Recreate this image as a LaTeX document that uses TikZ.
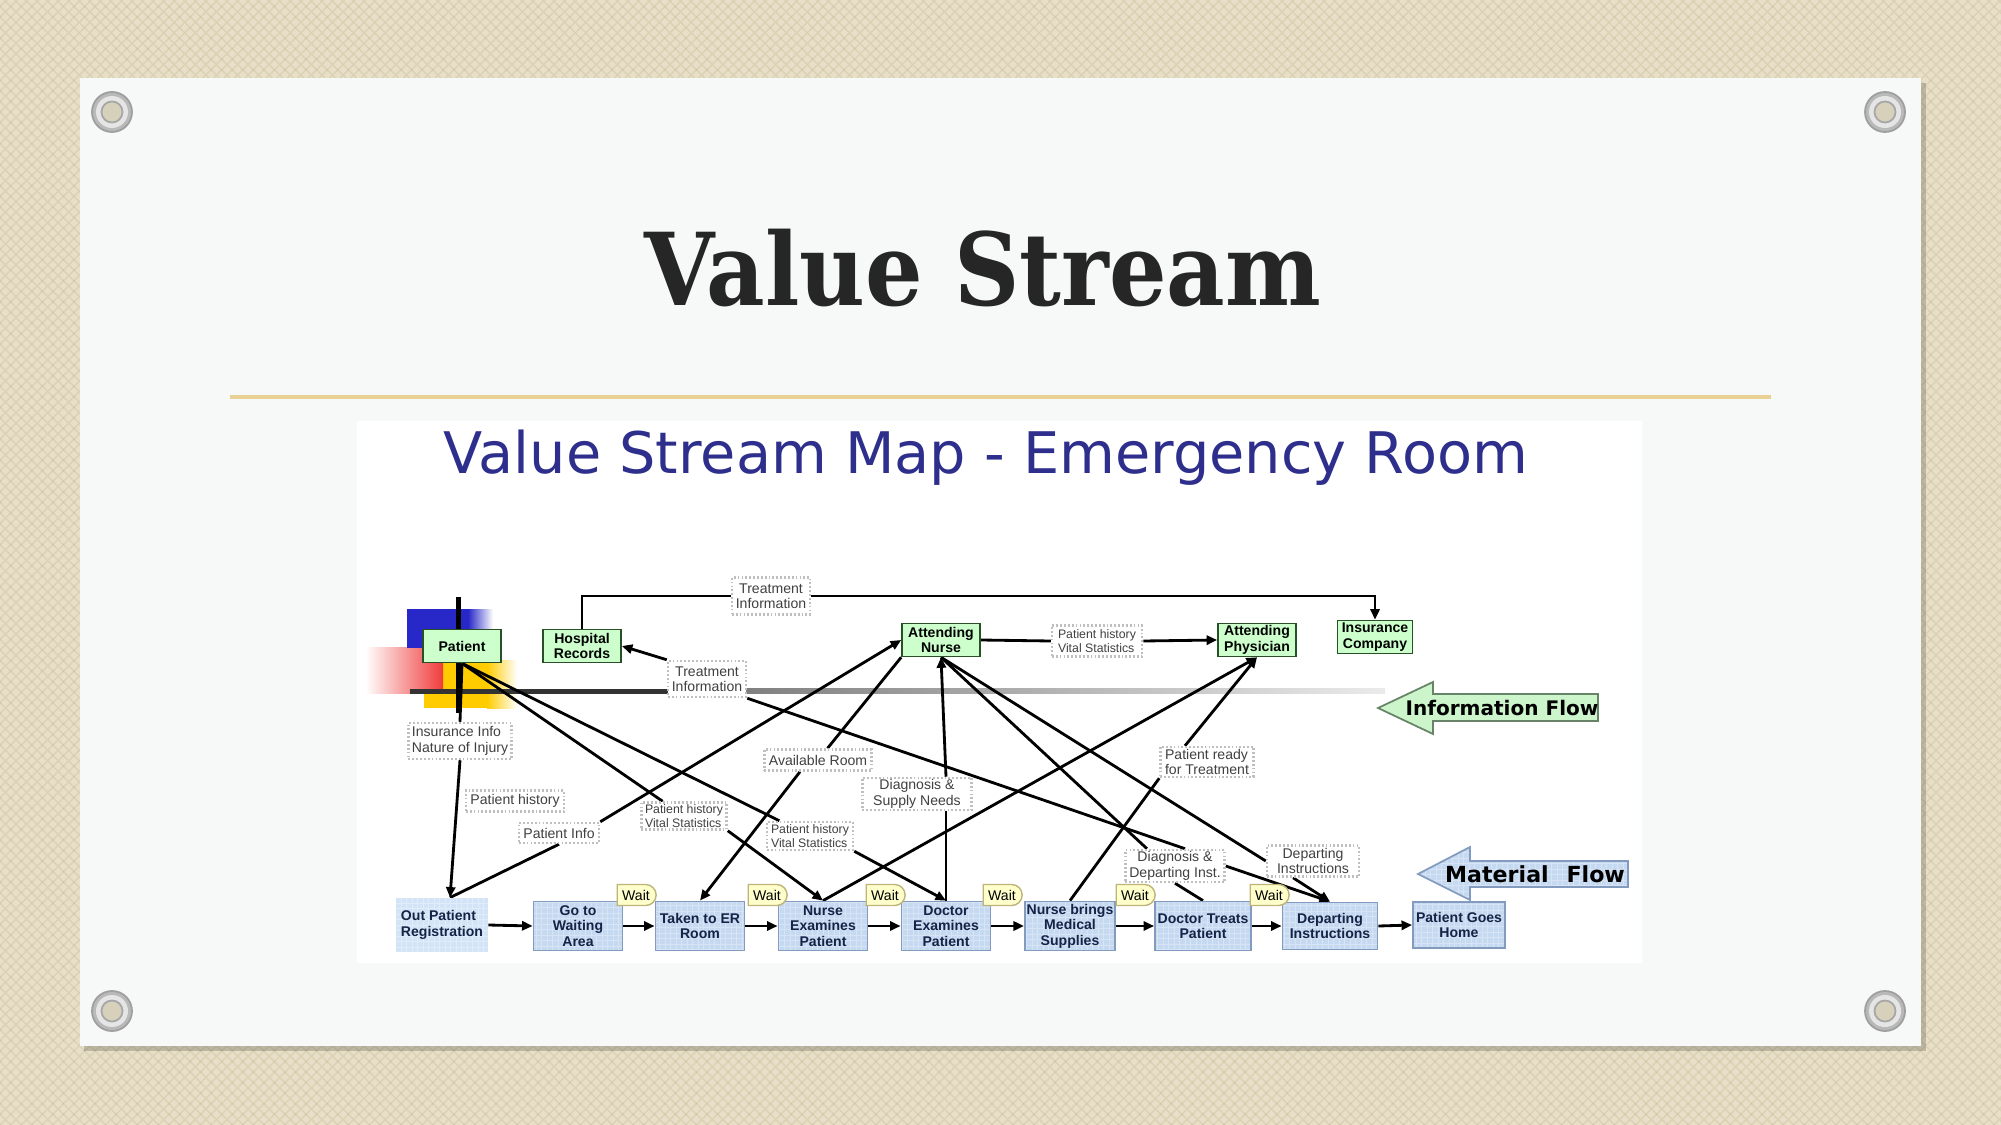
\documentclass[tikz,border=0pt]{standalone}
\usepackage{fontspec}
\setmainfont{Liberation Sans}
\newfontfamily\slideserif{DejaVu Serif}[FakeStretch=0.9]
\newfontfamily\mapfont{DejaVu Sans}
\usetikzlibrary{arrows.meta, positioning, calc, shapes.misc, patterns}

\definecolor{canvasbg}{RGB}{231, 223, 199}
\definecolor{canvasweave}{RGB}{208, 196, 162}
\definecolor{cardbg}{RGB}{247, 248, 248}
\definecolor{goldline}{RGB}{233, 208, 148}
\definecolor{titleink}{RGB}{38, 38, 38}
\definecolor{mapblue}{RGB}{46, 46, 140}
\definecolor{mintfill}{RGB}{204, 255, 204}
\definecolor{mintdraw}{RGB}{40, 80, 40}
\definecolor{procfill}{RGB}{197, 217, 241}
\definecolor{procdraw}{RGB}{130, 155, 190}
\definecolor{proctext}{RGB}{20, 35, 70}
\definecolor{regfill}{RGB}{212, 228, 247}
\definecolor{waitfill}{RGB}{255, 255, 204}
\definecolor{waitdraw}{RGB}{190, 180, 120}
\definecolor{infotext}{RGB}{64, 64, 64}
\definecolor{flowgreen}{RGB}{204, 245, 204}
\definecolor{mapred}{RGB}{240, 60, 60}
\definecolor{mapyellow}{RGB}{255, 204, 0}
\definecolor{mapindigo}{RGB}{40, 40, 200}

\newcommand{\slidetitle}{\slideserif\bfseries\fontsize{28.6}{32}\selectfont}
\newcommand{\maptitle}{\mapfont\fontsize{16.3}{18}\selectfont}
\newcommand{\flowlabel}{\mapfont\bfseries\fontsize{5.7}{6.5}\selectfont}
\newcommand{\matlabel}{\mapfont\bfseries\fontsize{6.3}{7}\selectfont}
\newcommand{\mapsmall}{\fontsize{4}{4.4}\selectfont}
\newcommand{\mapsmaller}{\fontsize{3.5}{4}\selectfont}

\pgfdeclarelayer{backdrop}
\pgfdeclarelayer{links}
\pgfsetlayers{backdrop,links,main}

\tikzset{
  greenbox/.style={draw=mintdraw, fill=mintfill, line width=0.45pt,
    font=\mapsmall\bfseries, align=center, minimum width=0.78cm,
    minimum height=0.33cm, inner sep=0.5pt},
  procbox/.style={draw=procdraw, fill=procfill, line width=0.5pt,
    font=\mapsmall\bfseries, text=proctext, align=center,
    minimum width=0.89cm, minimum height=0.49cm, inner sep=0.5pt},
  infobox/.style={draw=gray!50, dash pattern=on 0.5pt off 0.6pt,
    line width=0.7pt, fill=white, font=\mapsmall, text=infotext,
    align=center, inner sep=0.5pt},
  waitbox/.style={rounded rectangle, rounded rectangle left arc=none,
    draw=waitdraw, fill=waitfill, font=\mapsmall, minimum width=0.41cm,
    minimum height=0.21cm, inner sep=0.3pt},
  gridfill/.style={path picture={
    \draw[white, opacity=0.3, line width=0.25pt]
      (path picture bounding box.south west) grid[step=0.055cm]
      (path picture bounding box.north east);}},
  link/.style={line width=0.8pt},
  flow/.style={line width=0.8pt, -{Triangle[length=3pt, width=2.6pt]}},
}

\begin{document}
\begin{tikzpicture}[x=0.01cm, y=-0.01cm]
  \useasboundingbox (0,0) rectangle (2001,1125);

  \begin{pgfonlayer}{backdrop}
    % Canvas and card
    \fill[canvasbg] (0,0) rectangle (2001,1125);
    \fill[pattern=crosshatch, pattern color=canvasweave, opacity=0.5] (0,0) rectangle (2001,1125);
    \fill[black, opacity=0.18] (84,83) rectangle (1926,1051);
    \fill[cardbg] (80,78) rectangle (1921,1046);
    % Eyelets
    \foreach \gx/\gy in {112/112, 1885/112, 112/1011, 1885/1011}{
      \fill[gray!55] (\gx,\gy) circle (0.2cm);
      \fill[gray!20] (\gx,\gy) circle (0.16cm);
      \fill[canvasbg!85!gray] (\gx,\gy) circle (0.105cm);
      \draw[gray!70, line width=0.5pt] (\gx,\gy) circle (0.105cm);
      \draw[gray!75, line width=0.5pt] (\gx,\gy) circle (0.2cm);
    }
    % Rule under the title
    \draw[goldline, line width=1pt] (230,397) -- (1771,397);
    % Map picture
    \fill[white] (357,421) rectangle (1642,963);
    % Patient corner blocks
    \fill[mapyellow] (424,660) rectangle (487,708);
    \shade[left color=mapyellow, right color=white] (487,660) rectangle (517,708);
    \shade[left color=white, right color=mapred] (365,647) rectangle (443,693);
    \fill[mapindigo] (407,609) rectangle (468,648);
    \shade[left color=mapindigo, right color=white] (468,609) rectangle (493,648);
    % Split bars
    \fill[black!80] (410,688.5) rectangle (668,693.5);
    \shade[left color=black!55, right color=black!8] (668,688.5) rectangle (1385,693.5);
    \fill[black] (455.5,597) rectangle (460.5,713);
  \end{pgfonlayer}

  % Titles
  \node[font=\slidetitle, text=titleink, anchor=base] (slideTitle) at (983,306) {Value Stream};
  \node[font=\maptitle, text=mapblue, anchor=base] (mapTitle) at (986,474)
    {Value Stream Map - Emergency Room};

  % Information flow boxes
  \node[greenbox] (patient) at (462,646) {Patient};
  \node[greenbox] (hrec) at (582,646) {Hospital\\Records};
  \node[greenbox] (nurseAtt) at (941,640) {Attending\\Nurse};
  \node[greenbox] (physAtt) at (1257,640) {Attending\\Physician};
  \node[greenbox, minimum width=0.75cm] (insco) at (1375,637) {Insurance\\Company};

  % Information items
  \node[infobox, minimum width=0.78cm, minimum height=0.37cm] (tiTop) at (771,596) {Treatment\\Information};
  \node[infobox, minimum width=0.78cm, minimum height=0.36cm] (tiMid) at (707,679) {Treatment\\Information};
  \node[infobox, align=left, minimum width=1.03cm, minimum height=0.36cm] (insInfo) at (460,741) {Insurance Info\\Nature of Injury};
  \node[infobox, minimum width=0.98cm, minimum height=0.21cm] (phSingle) at (515,801) {Patient history};
  \node[infobox, minimum width=0.80cm, minimum height=0.20cm] (patInfo) at (559,833) {Patient Info};
  \node[infobox, font=\mapsmaller, align=left, minimum width=0.85cm, minimum height=0.27cm] (phvsA) at (684,816) {Patient history\\Vital Statistics};
  \node[infobox, font=\mapsmaller, align=left, minimum width=0.86cm, minimum height=0.28cm] (phvsB) at (810,836) {Patient history\\Vital Statistics};
  \node[infobox, minimum width=1.07cm, minimum height=0.21cm] (availRoom) at (818,760) {Available Room};
  \node[infobox, minimum width=1.09cm, minimum height=0.32cm] (diagSupply) at (917,794) {Diagnosis \&\\Supply Needs};
  \node[infobox, font=\mapsmaller, align=left, minimum width=0.90cm, minimum height=0.31cm] (phvsC) at (1097,641) {Patient history\\Vital Statistics};
  \node[infobox, align=left, minimum width=0.93cm, minimum height=0.30cm] (readyTreat) at (1207,762) {Patient ready\\for Treatment};
  \node[infobox, minimum width=0.99cm, minimum height=0.32cm] (diagDepart) at (1175,866) {Diagnosis \&\\Departing Inst.};
  \node[infobox, minimum width=0.92cm, minimum height=0.31cm] (departInfo) at (1313,861) {Departing\\Instructions};

  % Process steps
  \node[procbox, gridfill, draw=none, fill=regfill, align=left, minimum width=0.91cm, minimum height=0.53cm] (outReg) at (442,925) {Out Patient\\Registration};
  \node[procbox, gridfill] (goWait) at (578,926) {Go to\\Waiting\\Area};
  \node[procbox, gridfill] (takenER) at (700,926) {Taken to ER\\Room};
  \node[procbox, gridfill] (nurseEx) at (823,926) {Nurse\\Examines\\Patient};
  \node[procbox, gridfill] (docEx) at (946,926) {Doctor\\Examines\\Patient};
  \node[procbox, gridfill, minimum width=0.88cm] (nurseBr) at (1070,926) {Nurse brings\\Medical\\Supplies};
  \node[procbox, gridfill, minimum width=0.96cm] (docTreat) at (1203,926) {Doctor Treats\\Patient};
  \node[procbox, gridfill, minimum width=0.95cm, minimum height=0.47cm] (departProc) at (1330,926) {Departing\\Instructions};
  \node[procbox, gridfill, minimum width=0.92cm, minimum height=0.46cm] (goHome) at (1459,925) {Patient Goes\\Home};

  % Waits
  \foreach \w/\wx in {1/636, 2/767, 3/885, 4/1002, 5/1135, 6/1269}
    \node[waitbox] (wait\w) at (\wx,895) {Wait};

  % Flow banners
  \path[draw=mintdraw!70, fill=flowgreen, line width=0.5pt]
    (1598,694) -- (1433,694) -- (1433,682) -- (1378,708) -- (1433,734)
    -- (1433,721) -- (1598,721) -- cycle;
  \node[font=\flowlabel] (infoFlow) at (1502,708) {Information Flow};
  \path[draw=procdraw, fill=procfill, gridfill, line width=0.5pt]
    (1628,861) -- (1470,861) -- (1470,847) -- (1418,874) -- (1470,900)
    -- (1470,887) -- (1628,887) -- cycle;
  \node[font=\matlabel] (matFlow) at (1535,874) {Material\hspace{0.8em}Flow};

  \begin{pgfonlayer}{links}
    % Records
    \draw[link] (hrec.north) |- (tiTop.west);
    \draw[flow] (tiTop.east) -| (insco.north);
    \draw[flow] (tiMid.north west) -- (hrec.east);
    \draw[link] (tiMid.south east) -- (diagDepart.60);
    % Patient
    \draw[link] (patient.south) -- (insInfo.north);
    \draw[flow] (insInfo.south) -- ([xshift=0.08cm]outReg.north);
    \draw[link] (patient.south) -- (phvsA);
    \draw[flow] (phvsA.south east) -- (nurseEx.north);
    \draw[link] (patient.south) -- (phvsB);
    \draw[flow] (phvsB.south east) -- (docEx.north);
    \draw[link] ([xshift=0.08cm]outReg.north) -- (patInfo.south);
    \draw[flow] (patInfo.north east) -- (nurseAtt.west);
    % Attending nurse
    \draw[link] (nurseAtt.south west) -- (availRoom);
    \draw[flow] ([xshift=-0.18cm]availRoom.south) -- (takenER.north);
    \draw[link] (docEx.north) -- (docEx.north |- diagSupply.south);
    \draw[flow] (docEx.north |- diagSupply.north) -- (nurseAtt.south);
    \draw[link] (nurseAtt.south) -- ([xshift=-0.28cm]diagDepart.north);
    \draw[link] (nurseAtt.south) -- (departInfo.west);
    \draw[link] (nurseAtt.east) -- (phvsC.west);
    \draw[flow] (phvsC.east) -- (physAtt.west);
    % Physician
    \draw[flow] (nurseEx.north) -- (physAtt.south);
    \draw[link] (nurseBr.north) -- (readyTreat.south west);
    \draw[flow] ([xshift=-0.22cm]readyTreat.north) -- (physAtt.south);
    % Departure
    \draw[flow] (diagDepart.east) -- (departProc.north);
    \draw[flow] ([xshift=-0.2cm]departInfo.south) -- (departProc.north);
    \draw[link] (diagDepart.south) -- (docTreat.north);
    % Material flow
    \foreach \a/\b in {outReg/goWait, goWait/takenER, takenER/nurseEx,
        nurseEx/docEx, docEx/nurseBr, nurseBr/docTreat,
        docTreat/departProc, departProc/goHome}
      \draw[flow] (\a.east) -- (\b.west);
  \end{pgfonlayer}
\end{tikzpicture}
\end{document}
